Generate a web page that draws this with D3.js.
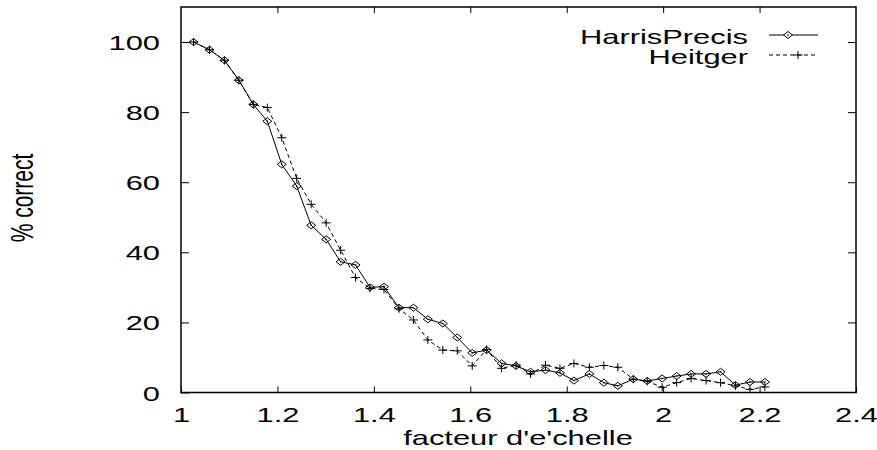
<!DOCTYPE html>
<html>
<head>
<meta charset="utf-8">
<script src="https://cdn.jsdelivr.net/npm/d3@7"></script>
<style>
  body { margin: 0; background: #fff; }
  svg { display: block; font-family: "Liberation Sans", Arial, sans-serif; }
</style>
</head>
<body>
<div id="chart"></div>
<script>
// scale factors (x axis)
var factors = [1.026, 1.059, 1.090, 1.120, 1.150, 1.179, 1.209, 1.240, 1.270, 1.301,
               1.331, 1.362, 1.392, 1.421, 1.452, 1.482, 1.512, 1.543, 1.573, 1.604,
               1.634, 1.665, 1.695, 1.725, 1.756, 1.786, 1.815, 1.847, 1.877, 1.906,
               1.938, 1.967, 1.998, 2.028, 2.058, 2.089, 2.119, 2.150, 2.180, 2.211];

var harrisPrecis = [100, 97.8, 94.8, 89.1, 82.2, 77.4, 65.1, 58.9, 47.7, 43.7,
                    37.3, 36.4, 30.0, 30.2, 24.2, 24.2, 20.9, 19.7, 15.7, 11.3,
                    12.1, 8.3, 7.6, 5.9, 6.4, 5.6, 3.4, 5.3, 2.8, 1.9,
                    3.8, 3.3, 4.0, 4.7, 5.3, 5.3, 5.9, 2.1, 3.0, 3.0];

var heitger = [100, 97.8, 94.8, 89.1, 82.2, 81.3, 72.7, 61.1, 53.7, 48.4,
               40.6, 32.8, 29.7, 29.4, 23.9, 20.7, 15.0, 12.1, 11.9, 7.6,
               12.3, 6.9, 7.8, 5.3, 7.8, 6.9, 8.3, 7.2, 7.7, 7.2,
               3.8, 3.2, 1.5, 2.8, 4.0, 3.4, 2.8, 1.9, 0.9, 1.6];

var xTicks = [1, 1.2, 1.4, 1.6, 1.8, 2, 2.2, 2.4];
var yTicks = [0, 20, 40, 60, 80, 100];
var seriesNames = ["HarrisPrecis", "Heitger"];

var W = 877, H = 450;
var pLeft = 181, pRight = 856, pTop = 7, pBottom = 392.5;
var sx = 1.47; // text is stretched horizontally in the original
var fontSize = 21;

var svg = d3.select('#chart').append('svg')
  .attr('width', W)
  .attr('height', H);

var x = d3.scaleLinear().domain([1, 2.4]).range([pLeft, pRight]);
var y = d3.scaleLinear().domain([0, 110]).range([pBottom, pTop]);
var fmt = d3.format('~g');

// ticks (inward, mirrored)
function styleAxis(g) {
  g.select('.domain').remove();
  g.selectAll('line').attr('stroke', '#000').attr('stroke-width', 1);
}

svg.append('g').attr('transform', 'translate(0,' + pBottom + ')')
  .call(d3.axisBottom(x).tickValues(xTicks).tickSize(-6).tickFormat(fmt))
  .call(styleAxis)
  .call(function(g) {
    g.selectAll('text')
      .attr('y', 0).attr('dy', null).attr('x', 0)
      .attr('transform', 'translate(0,29) scale(' + sx + ',1)')
      .attr('text-anchor', 'middle')
      .attr('font-size', fontSize)
      .attr('font-family', null)
      .attr('fill', '#000');
  });

svg.append('g').attr('transform', 'translate(0,' + pTop + ')')
  .call(d3.axisTop(x).tickValues(xTicks.slice(1, -1)).tickSize(-6).tickFormat(''))
  .call(styleAxis);

svg.append('g').attr('transform', 'translate(' + pLeft + ',0)')
  .call(d3.axisLeft(y).tickValues(yTicks).tickSize(-8).tickFormat(fmt))
  .call(styleAxis)
  .call(function(g) {
    g.selectAll('text')
      .attr('x', 0).attr('dy', null).attr('y', 0)
      .attr('transform', 'translate(-21,7.5) scale(' + sx + ',1)')
      .attr('text-anchor', 'end')
      .attr('font-size', fontSize)
      .attr('font-family', null)
      .attr('fill', '#000');
  });

svg.append('g').attr('transform', 'translate(' + pRight + ',0)')
  .call(d3.axisRight(y).tickValues(yTicks.slice(1)).tickSize(-8).tickFormat(''))
  .call(styleAxis);

// frame
svg.append('rect')
  .attr('x', pLeft).attr('y', pTop)
  .attr('width', pRight - pLeft).attr('height', pBottom - pTop)
  .attr('fill', 'none').attr('stroke', '#000').attr('stroke-width', 1.5);

// axis titles
svg.append('text')
  .attr('transform', 'translate(518,445) scale(' + sx + ',1)')
  .attr('text-anchor', 'middle')
  .attr('font-size', fontSize)
  .text("facteur d'e'chelle");

svg.append('text')
  .attr('transform', 'translate(33,198) scale(' + sx + ',1) rotate(-90)')
  .attr('text-anchor', 'middle')
  .attr('font-size', fontSize)
  .text('% correct');

// data
var dataA = factors.map(function(f, i) { return { x: f, y: harrisPrecis[i] }; });
var dataB = factors.map(function(f, i) { return { x: f, y: heitger[i] }; });

var line = d3.line().x(function(d) { return x(d.x); }).y(function(d) { return y(d.y); });

svg.append('path').datum(dataB)
  .attr('d', line)
  .attr('fill', 'none').attr('stroke', '#000').attr('stroke-width', 1)
  .attr('stroke-dasharray', '4,3');

svg.append('path').datum(dataA)
  .attr('d', line)
  .attr('fill', 'none').attr('stroke', '#000').attr('stroke-width', 1);

function diamond(cx, cy) {
  return 'M' + (cx - 4.5) + ',' + cy + 'L' + cx + ',' + (cy - 3.5) +
         'L' + (cx + 4.5) + ',' + cy + 'L' + cx + ',' + (cy + 3.5) + 'Z';
}
function cross(cx, cy) {
  return 'M' + (cx - 4.5) + ',' + cy + 'H' + (cx + 4.5) +
         'M' + cx + ',' + (cy - 4) + 'V' + (cy + 4);
}

svg.append('g').selectAll('path').data(dataB).enter().append('path')
  .attr('d', function(d) { return cross(x(d.x), y(d.y)); })
  .attr('stroke', '#000').attr('stroke-width', 1).attr('fill', 'none');

svg.append('g').selectAll('path').data(dataA).enter().append('path')
  .attr('d', function(d) { return diamond(x(d.x), y(d.y)); })
  .attr('stroke', '#000').attr('stroke-width', 1).attr('fill', 'none');

svg.append('g').selectAll('circle').data(dataA).enter().append('circle')
  .attr('cx', function(d) { return x(d.x); })
  .attr('cy', function(d) { return y(d.y); })
  .attr('r', 0.8).attr('fill', '#000');

// legend
var legY = [35, 55];
var legBase = [44, 63.5];
seriesNames.forEach(function(name, i) {
  svg.append('text')
    .attr('transform', 'translate(748,' + legBase[i] + ') scale(' + sx + ',1)')
    .attr('text-anchor', 'end')
    .attr('font-size', fontSize)
    .text(name);
  svg.append('line')
    .attr('x1', 769).attr('x2', 818)
    .attr('y1', legY[i]).attr('y2', legY[i])
    .attr('stroke', '#000').attr('stroke-width', 1)
    .attr('stroke-dasharray', i === 0 ? null : '4,3');
});
svg.append('path').attr('d', diamond(788, legY[0]))
  .attr('stroke', '#000').attr('fill', 'white');
svg.append('circle').attr('cx', 788).attr('cy', legY[0]).attr('r', 0.8).attr('fill', '#000');
svg.append('path').attr('d', cross(798, legY[1]))
  .attr('stroke', '#000').attr('fill', 'none');
</script>
</body>
</html>
